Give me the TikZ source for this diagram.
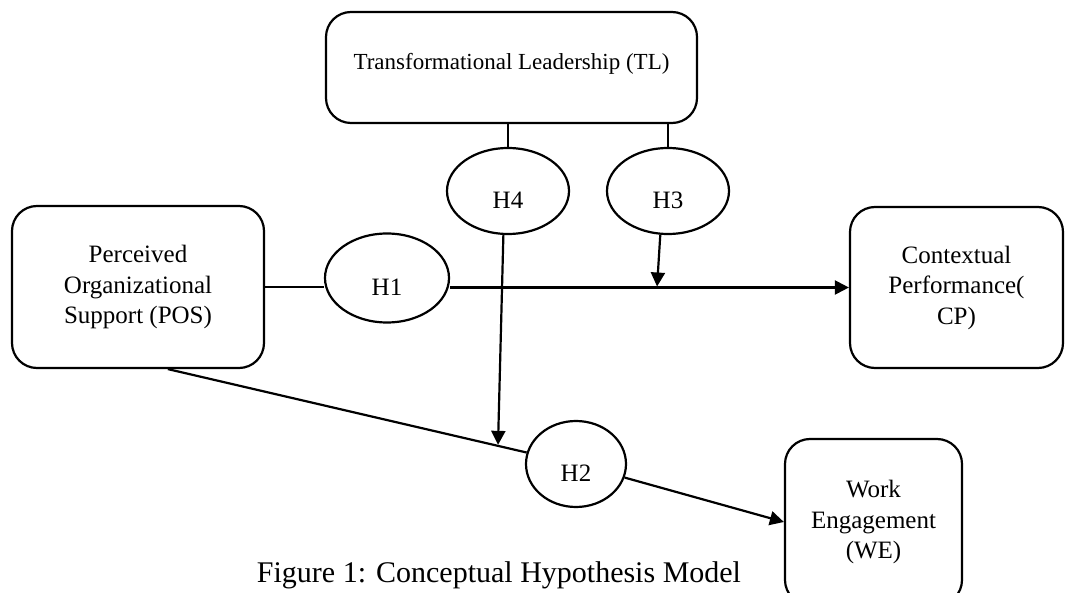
\documentclass[tikz,border=0pt]{standalone}
\usepackage{fontspec}
\setmainfont{Liberation Serif}
\usetikzlibrary{shapes.geometric,arrows.meta,calc}

\begin{document}
\begin{tikzpicture}[x=1pt,y=-1pt,
  box/.style={draw, line width=2.2pt, rounded corners=25pt, align=center,
    inner sep=0pt, font=\fontsize{25}{30.5}\selectfont},
  hyp/.style={draw, ellipse, line width=2.2pt, inner sep=0pt,
    text height=35pt, text depth=0pt, font=\fontsize{25}{30}\selectfont},
  link/.style={line width=2.2pt},
  arrow/.style={link, -{Triangle[length=14pt,width=14pt]}, shorten >=1pt}]
\useasboundingbox (0,0) rectangle (1076,593);
\clip (0,0) rectangle (1076,593);

% constructs
\node[box, minimum width=371pt, minimum height=111pt,
  font=\fontsize{23}{28}\selectfont,
  text height=18pt, text depth=13pt] (tl) at (511.5,67.5)
  {Transformational Leadership (TL)};
\node[box, minimum width=252pt, minimum height=162pt] (pos) at (138,287)
  {Perceived\\Organizational\\Support (POS)};
\node[box, minimum width=213pt, minimum height=161pt] (cp) at (956.5,287.5)
  {Contextual\\Performance(\\CP)};
\node[box, minimum width=177pt, minimum height=166pt] (we) at (873.5,522)
  {Work\\Engagement\\(WE)};

% hypotheses
\node[hyp, minimum width=122pt, minimum height=86pt] (h4) at (508,191) {H4};
\node[hyp, minimum width=122pt, minimum height=86pt] (h3) at (668,191) {H3};
\node[hyp, minimum width=124pt, minimum height=89pt] (h1) at (387,278) {H1};
\node[hyp, minimum width=100pt, minimum height=86pt] (h2) at (576,464) {H2};

% caption
\node[font=\fontsize{30}{36}\selectfont, anchor=base] (cap) at (499,582)
  {Figure 1: Conceptual Hypothesis Model};

% moderation links from TL
\draw[link] (h4.north |- tl.south) -- (h4.north);
\draw[link] (h3.north |- tl.south) -- (h3.north);

% POS -> H1 -> CP
\draw[link] (pos.east) -- (pos.east -| h1.west);
\draw[arrow, shorten >=0pt] (cp.west -| h1.east) -- (cp.west);
\coordinate (j3) at (657,287.5);
\draw[arrow] (h3.-100) -- (j3);

% POS -> H2 -> WE
\draw[link] (pos.-70) -- (h2);
\coordinate (h4low) at (494,600);
\coordinate (j4) at (intersection of pos.-70--h2.center and h4.-96--h4low);
\draw[arrow] (h4.-96) -- (j4);
\draw[arrow, shorten >=0pt] (h2) -- (we.west);
\end{tikzpicture}
\end{document}
